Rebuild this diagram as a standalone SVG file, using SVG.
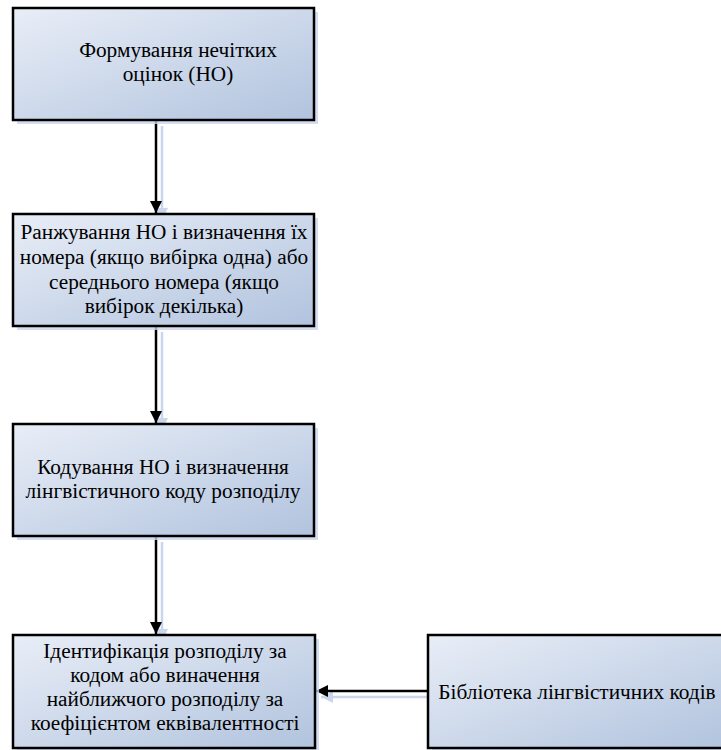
<svg xmlns="http://www.w3.org/2000/svg" width="721" height="750" viewBox="0 0 721 750">
<defs>
<linearGradient id="fill" x1="0" y1="0" x2="1" y2="1">
<stop offset="0" stop-color="#e9eef7"/>
<stop offset="1" stop-color="#b1c3de"/>
</linearGradient>
<marker id="ah" markerWidth="12" markerHeight="12" refX="12" refY="6" orient="auto" markerUnits="userSpaceOnUse" viewBox="0 0 12 12">
<path d="M0,0 L12,6 L0,12 Z" fill="#000"/>
</marker>
<marker id="ahs" markerWidth="12" markerHeight="12" refX="12" refY="6" orient="auto" markerUnits="userSpaceOnUse" viewBox="0 0 12 12">
<path d="M0,0 L12,6 L0,12 Z" fill="#c9d6ec"/>
</marker>
<style>
.box{fill:url(#fill);stroke:#000;stroke-width:2.5}
.shadow{fill:#c9d6ec;opacity:0.8}
.t{font-family:'Liberation Serif','Times New Roman',serif;font-size:21.3px;fill:#000;text-anchor:middle}
.conn{stroke:#000;stroke-width:2.5;fill:none;marker-end:url(#ah)}
.cs{stroke:#c9d6ec;stroke-width:2.5;fill:none;marker-end:url(#ahs)}
</style>
</defs>
<g id="connectors">
<line class="cs" x1="162" y1="126" x2="162" y2="220"/>
<line class="cs" x1="162" y1="332" x2="162" y2="430"/>
<line class="cs" x1="162" y1="542" x2="162" y2="641"/>
<line class="cs" x1="434" y1="697" x2="321" y2="697"/>
<line class="conn" x1="156" y1="121" x2="156" y2="213"/>
<line class="conn" x1="156" y1="327" x2="156" y2="423"/>
<line class="conn" x1="156" y1="537" x2="156" y2="634"/>
<line class="conn" x1="428" y1="691" x2="316" y2="691"/>
</g>
<g id="n1">
<rect class="shadow" x="17" y="12" width="301" height="112"/>
<rect class="box" x="13" y="8" width="301" height="112"/>
<text class="t" x="178" y="57">Формування нечітких</text>
<text class="t" x="178" y="81">оцінок (НО)</text>
</g>
<g id="n2">
<rect class="shadow" x="17" y="218" width="301" height="112"/>
<rect class="box" x="13" y="214" width="301" height="112"/>
<text class="t" x="164" y="239">Ранжування НО і визначення їх</text>
<text class="t" x="164" y="264">номера (якщо вибірка одна) або</text>
<text class="t" x="164" y="289">середнього номера (якщо</text>
<text class="t" x="164" y="313">вибірок декілька)</text>
</g>
<g id="n3">
<rect class="shadow" x="17" y="428" width="301" height="112"/>
<rect class="box" x="13" y="424" width="301" height="112"/>
<text class="t" x="163" y="474">Кодування НО і визначення</text>
<text class="t" x="163" y="498">лінгвістичного коду розподілу</text>
</g>
<g id="n4">
<rect class="shadow" x="17" y="639" width="302" height="113"/>
<rect class="box" x="13" y="635" width="302" height="113"/>
<text class="t" x="165" y="658">Ідентифікація розподілу за</text>
<text class="t" x="165" y="682">кодом або виначення</text>
<text class="t" x="165" y="706">найближчого розподілу за</text>
<text class="t" x="165" y="730">коефіцієнтом еквівалентності</text>
</g>
<g id="n5">
<rect class="shadow" x="432" y="639" width="301" height="113"/>
<rect class="box" x="428" y="635" width="301" height="113"/>
<text class="t" x="577" y="699">Бібліотека лінгвістичних кодів</text>
</g>
</svg>
